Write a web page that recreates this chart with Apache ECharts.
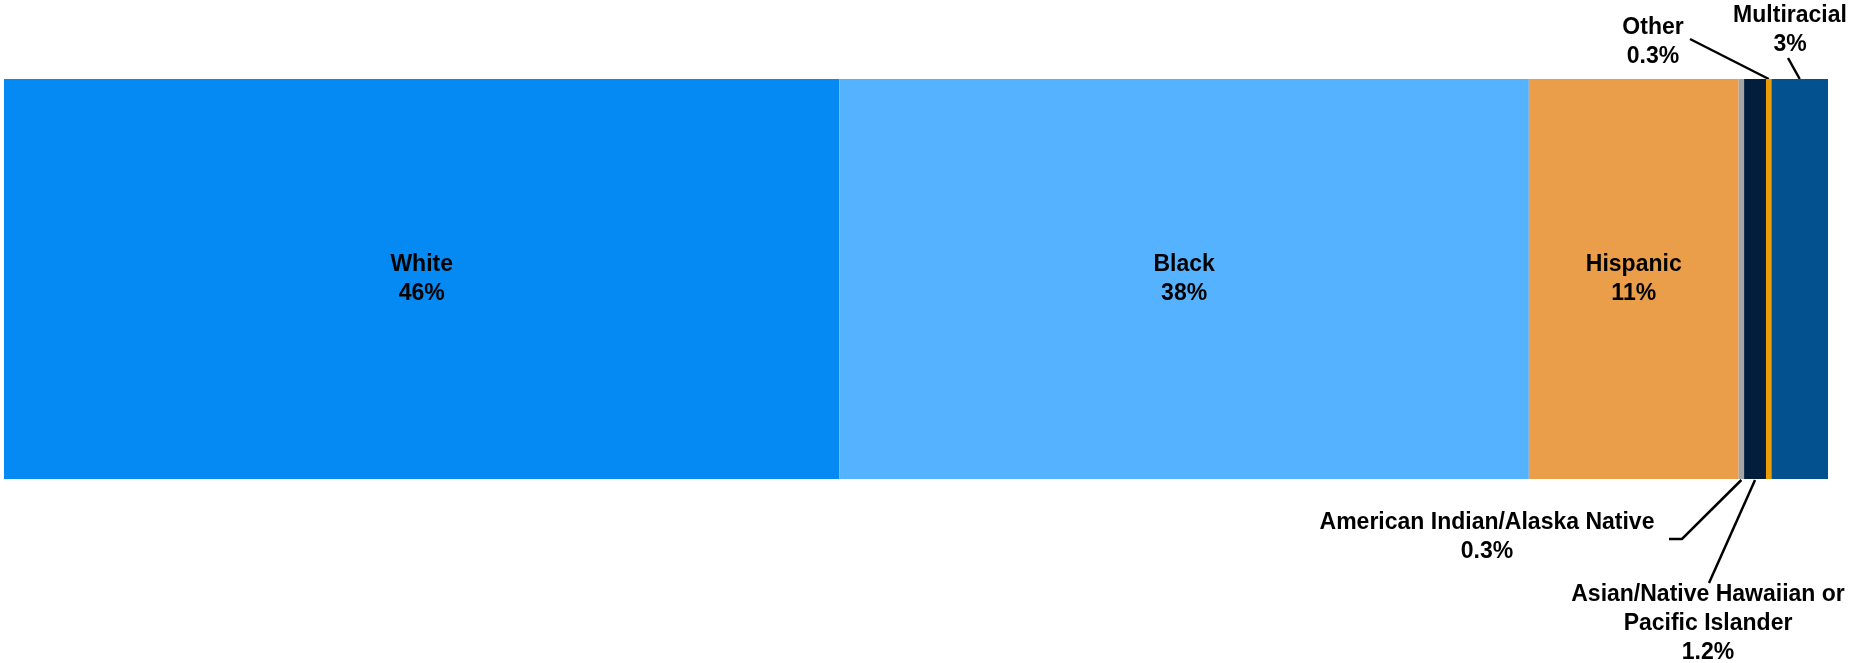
<!DOCTYPE html>
<html>
<head>
<meta charset="utf-8">
<title>Race / ethnicity</title>
<script src="https://cdn.jsdelivr.net/npm/echarts@6/dist/echarts.min.js"></script>
<style>
  html, body { margin: 0; padding: 0; background: #fff; }
  #main { width: 1853px; height: 663px; }
</style>
</head>
<body>
<div id="main"></div>
<script>
// data
var groups = ['White', 'Black', 'Hispanic', 'American Indian/Alaska Native',
              'Asian/Native Hawaiian or\nPacific Islander', 'Other', 'Multiracial'];
var shares = [45.8, 37.8, 11.5, 0.3, 1.2, 0.3, 3.1];
var shareLabels = ['46%', '38%', '11%', '0.3%', '1.2%', '0.3%', '3%'];
var colors = ['#0589f2', '#55b2fe', '#eb9e4a', '#a5a5a5', '#031d3c', '#e99c05', '#03528f'];

// layout of bar
var gridTop = 79, gridBottom = 479;

// where the outside labels go (pixels) and where their leader starts
var outside = {
    3: { x: 1487, y: 537, line: [[1669, 539], [1682, 539]], edge: 'bottom' },
    4: { x: 1708, y: 624, line: [[1709, 583]], edge: 'bottom' },
    5: { x: 1653, y: 42, line: [[1690, 39]], edge: 'top' },
    6: { x: 1790, y: 30, line: [[1788, 58]], edge: 'top' }
};

var chart = echarts.init(document.getElementById('main'));

var series = groups.map(function (g, i) {
    var ext = outside[i];
    var s = {
        name: g,
        type: 'bar',
        stack: 'all',
        barWidth: '100%',
        itemStyle: { color: colors[i] },
        label: {
            show: true,
            position: 'inside',
            formatter: g + '\n' + shareLabels[i],
            color: '#000',
            fontFamily: 'Liberation Sans, Arial, sans-serif',
            fontWeight: 'bold',
            fontSize: 23,
            lineHeight: 29,
            align: 'center'
        },
        emphasis: { disabled: true },
        data: [shares[i]]
    };
    if (ext) {
        s.labelLayout = function () {
            return { x: ext.x, y: ext.y, align: 'center', verticalAlign: 'middle', hideOverlap: false };
        };
    }
    return s;
});

var option = {
    animation: false,
    grid: { left: 4, right: 25, top: gridTop, bottom: 663 - gridBottom },
    xAxis: { type: 'value', min: 0, max: 100, show: false },
    yAxis: { type: 'category', data: ['All'], show: false },
    series: series
};
chart.setOption(option);

// leader lines: from label side to middle of the thin segment
var lines = [];
var start = 0;
for (var i = 0; i < shares.length; i++) {
    var ext = outside[i];
    if (ext) {
        var px = chart.convertToPixel({ xAxisIndex: 0, yAxisIndex: 0 }, [start + shares[i] / 2, 0])[0];
        var py = ext.edge === 'top' ? gridTop : gridBottom + 1;
        var pts = ext.line.concat([[px, py]]);
        lines.push({
            type: 'polyline',
            shape: { points: pts },
            style: { stroke: '#000', lineWidth: 2.5, fill: null },
            silent: true
        });
    }
    start += shares[i];
}
chart.setOption({ graphic: lines });
</script>
</body>
</html>
